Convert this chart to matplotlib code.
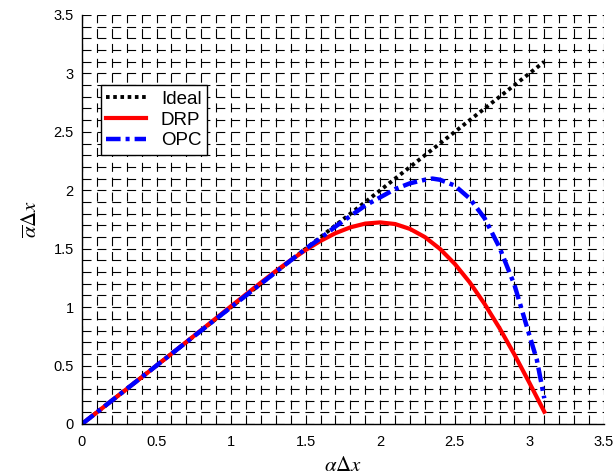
import matplotlib
matplotlib.use('Agg')
from matplotlib import pyplot as plt
import numpy as np

# values
x_ideal = [0.0, 3.1]
y_ideal = [0.0, 3.1]

x_drp = [0.0, 0.25, 0.5, 0.75, 1.0, 1.1, 1.2, 1.3, 1.4, 1.5, 1.6, 1.7, 1.8, 1.9,
         2.0, 2.1, 2.2, 2.3, 2.4, 2.5, 2.6, 2.7, 2.8, 2.9, 3.0, 3.1]
y_drp = [0.0, 0.25, 0.50, 0.753, 1.008, 1.110, 1.210, 1.309, 1.402, 1.489, 1.567,
         1.633, 1.683, 1.715, 1.725, 1.711, 1.669, 1.599, 1.499, 1.370, 1.212,
         1.027, 0.820, 0.594, 0.353, 0.105]

x_opc = [0.0, 0.5, 1.0, 1.4, 1.5, 1.6, 1.7, 1.8, 1.9, 2.0, 2.1, 2.2, 2.3, 2.35,
         2.4, 2.5, 2.6, 2.7, 2.8, 2.9, 3.0, 3.05, 3.1]
y_opc = [0.0, 0.5, 1.0, 1.40, 1.50, 1.59, 1.69, 1.78, 1.87, 1.94, 2.01, 2.06, 2.09,
         2.10, 2.09, 2.04, 1.93, 1.76, 1.51, 1.19, 0.76, 0.55, 0.22]

labels = ['Ideal', 'DRP', 'OPC']
xticks = [0, 0.5, 1, 1.5, 2, 2.5, 3, 3.5]
yticks = [0, 0.5, 1, 1.5, 2, 2.5, 3, 3.5]

plt.rcParams['lines.scale_dashes'] = False
plt.rcParams['font.family'] = ['Liberation Sans', 'DejaVu Sans']
plt.rcParams['mathtext.fontset'] = 'stix'

fig = plt.figure(figsize=(6.15, 4.74), dpi=100)
ax = fig.add_axes([0.1333, 0.1055, 0.8487, 0.8629])

# matlab style dashed grid, major and minor
ax.set_xticks(np.arange(0, 3.51, 0.1), minor=True)
ax.set_yticks(np.arange(0, 3.51, 0.1), minor=True)
ax.grid(True, which='both', color='black', linewidth=0.8,
        linestyle=(0, (6.5, 4.2)))
ax.set_axisbelow(True)

ax.plot(x_ideal, y_ideal, color='black', linewidth=2.8,
        linestyle=(0, (2.6, 2.6)), label=labels[0])
ax.plot(x_drp, y_drp, color='red', linewidth=3.0, linestyle='-',
        label=labels[1])
ax.plot(x_opc, y_opc, color='blue', linewidth=3.2,
        linestyle=(0, (10.5, 3.6, 2.9, 3.6)), label=labels[2])

ax.set_xlim(0, 3.5)
ax.set_ylim(0, 3.5)
ax.set_xticks(xticks)
ax.set_yticks(yticks)
ax.set_xticklabels(['0', '0.5', '1', '1.5', '2', '2.5', '3', '3.5'])
ax.set_yticklabels(['0', '0.5', '1', '1.5', '2', '2.5', '3', '3.5'])
ax.tick_params(which='both', direction='in', length=0, labelsize=10.5)
ax.tick_params(axis='x', pad=8)
ax.tick_params(axis='y', pad=6)

ax.spines['top'].set_visible(False)
ax.spines['right'].set_visible(False)
ax.spines['left'].set_linewidth(1.0)
ax.spines['bottom'].set_linewidth(1.0)

ax.set_xlabel(r'$\alpha\Delta x$', fontsize=15, labelpad=5)
ax.set_ylabel(r'$\overline{\alpha}\Delta x$', fontsize=15, labelpad=9)

leg = ax.legend(loc='upper left', bbox_to_anchor=(0.036, 0.829),
                borderaxespad=0, fontsize=13.5, handlelength=2.1,
                handletextpad=0.8, labelspacing=0.2, borderpad=0.3,
                fancybox=False, framealpha=1, edgecolor='black')
leg.get_frame().set_linewidth(1.0)

plt.savefig('out.png', dpi=100)
